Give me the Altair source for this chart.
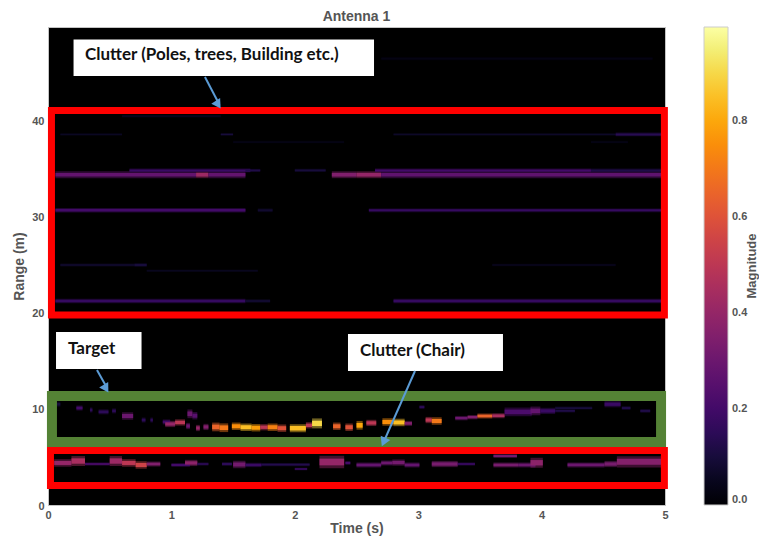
import altair as alt
import pandas as pd

# (start time s, end time s, range m, thickness m, magnitude)
target_track = [
    (.07,.10,10.5,.4,.1),(.23,.28,10.1,.4,.2),(.34,.36,9.9,.4,.15),(.41,.49,9.7,.4,.15),
    (.52,.55,9.8,.4,.15),(.60,.69,9.27,.6,.3),(.76,.79,8.85,.4,.15),(.83,.85,8.85,.4,.15),
    (.93,.99,8.65,.4,.2),(.95,1.03,8.44,.5,.4),(1.03,1.11,8.6,.5,.5),(1.12,1.15,8.23,.5,.3),
    (1.13,1.17,9.5,.7,.3),(1.17,1.21,9.3,.6,.25),(1.20,1.23,8.02,.5,.4),(1.26,1.30,8.13,.5,.35),
    (1.33,1.39,8.13,.7,.65),(1.39,1.46,8.05,.7,.7),(1.49,1.56,8.2,.6,.75),(1.56,1.65,8.1,.6,.85),
    (1.65,1.72,8.05,.6,.78),(1.72,1.78,8.1,.5,.5),(1.78,1.86,8.1,.6,.72),(1.86,1.93,8.0,.6,.6),
    (1.96,2.09,8.0,.65,.85),(2.09,2.14,8.3,.5,.5),(2.14,2.22,8.5,.8,.9),(2.31,2.37,8.2,.6,.65),
    (2.41,2.47,8.1,.6,.6),(2.50,2.55,8.3,.7,.8),(2.58,2.66,8.55,.5,.5),(2.71,2.80,8.65,.6,.75),
    (2.80,2.89,8.6,.6,.85),(2.89,2.95,8.5,.4,.35),(3.06,3.11,8.85,.5,.5),(3.11,3.19,8.75,.6,.7),
    (3.01,3.05,10.2,.3,.15),(3.30,3.40,9.05,.35,.3),(3.40,3.48,9.15,.35,.35),(3.48,3.60,9.27,.4,.65),
    (3.60,3.70,9.3,.4,.45),(3.70,3.92,9.7,.7,.22),(3.91,3.99,9.8,.7,.28),(3.99,4.11,9.8,.5,.18),
    (4.11,4.27,9.8,.25,.12),(4.11,4.41,10.1,.25,.1),(4.51,4.64,10.5,.5,.18),(4.65,4.72,10.1,.3,.12),
    (4.80,4.88,9.8,.3,.12),
]
chair_track = [
    (.05,.19,4.38,.6,.4),(.19,.30,4.58,.8,.45),(.30,.50,4.27,.25,.22),(.50,.60,4.58,.8,.42),
    (.60,.71,4.38,.6,.5),(.71,.80,4.17,.6,.55),(.80,.91,4.27,.4,.35),(1.0,1.15,4.17,.3,.2),
    (1.11,1.21,4.38,.5,.38),(1.21,1.30,4.27,.25,.15),(1.41,1.49,4.27,.3,.15),(1.50,1.60,4.22,.6,.32),
    (1.60,1.73,4.17,.35,.18),(1.73,2.12,4.2,.25,.13),(2.00,2.10,3.75,.2,.18),(2.20,2.40,4.48,1.0,.4),
    (2.41,2.45,4.38,.3,.2),(2.50,2.70,4.17,.4,.28),(2.70,2.79,4.38,.4,.3),(2.79,2.89,4.42,.5,.32),
    (2.89,3.01,4.17,.4,.28),(3.11,3.32,4.27,.5,.33),(3.32,3.46,4.27,.25,.18),(3.61,3.80,5.1,.3,.32),
    (3.61,3.81,4.17,.4,.33),(3.81,3.95,4.17,.4,.3),(3.91,4.01,4.4,.8,.38),(4.21,4.51,4.17,.4,.3),
    (4.51,4.61,4.27,.5,.33),(4.61,4.97,4.5,.9,.36),
]
clutter_bands = [
    (.06,1.2,34.4,.55,.28),(1.2,1.3,34.4,.55,.42),(1.3,1.6,34.4,.55,.28),(2.3,2.5,34.4,.55,.35),
    (2.5,2.7,34.4,.55,.4),(2.7,4.97,34.4,.55,.27),
    (.66,1.64,34.85,.3,.18),(1.6,1.72,34.85,.25,.12),(2.0,2.25,34.85,.25,.1),(2.65,4.4,34.85,.3,.2),(4.4,4.97,34.85,.3,.12),
    (.06,1.6,30.7,.35,.2),(1.7,1.82,30.7,.3,.08),(2.6,4.97,30.7,.3,.17),
    (.06,1.6,21.25,.35,.17),(1.6,1.8,21.25,.3,.08),(2.8,4.97,21.25,.35,.17),
    (.1,.7,25.0,.25,.08),(.7,.8,25.0,.3,.1),(3.6,4.6,25.0,.2,.05),(.8,1.7,24.4,.2,.05),
    (.1,.6,38.6,.2,.06),(1.4,1.5,38.6,.2,.1),(2.8,4.6,38.6,.2,.07),(4.6,4.97,38.6,.3,.14),
    (1.5,2.4,37.8,.2,.04),(4.4,4.7,37.8,.2,.04),(.6,1.4,40.5,.2,.06),(2.7,4.9,46.5,.25,.03),
]
# annotations in data units: x0, x1, y0, y1
red_boxes = [(.028,4.995,19.79,41.09),(.02,4.995,2.03,5.68)]
green_boxes = [(.032,4.968,6.56,11.35)]
white_boxes = [(.207,2.642,44.69,48.49),(.065,.758,14.17,18.02),(2.431,3.687,13.96,17.81)]
labels = ["Clutter (Poles, trees, Building etc.)","Target","Clutter (Chair)"]
label_t = [.30,.162,2.528]
label_r = [46.88,16.25,16.04]
arrows = [(1.272,1.378,44.58,41.98,27),(.397,.47,14.06,12.4,29),(2.974,2.72,13.96,6.56,204)]

GREY = "#555555"
FONT = "Liberation Sans"
rows = target_track + chair_track + clutter_bands
heat = pd.DataFrame(rows, columns=["t0","t1","r","th","mag"])
heat["y0"] = heat.r - heat.th * .35
heat["y1"] = heat.r + heat.th * .35
heat["hy0"] = heat.r - heat.th * .65
heat["hy1"] = heat.r + heat.th * .65

xs = alt.Scale(domain=[0,5], nice=False, zero=False)
ys = alt.Scale(domain=[0,49.79], nice=False, zero=False)
x_ax = alt.Axis(values=[0,1,2,3,4,5], format="d", title="Time (s)", grid=False, ticks=False, domain=False,
                labelFlush=False, labelColor=GREY, labelFont=FONT, labelFontWeight="bold", labelFontSize=11,
                labelPadding=4, titleColor=GREY, titleFont=FONT, titleFontWeight="bold", titleFontSize=14,
                titlePadding=1)
y_ax = alt.Axis(values=[0,10,20,30,40], format="d", title="Range (m)", grid=False, ticks=False, domain=False,
                labelFlush=False, labelOffset=1, labelColor=GREY, labelFont=FONT, labelFontWeight="bold",
                labelFontSize=11, labelPadding=4, titleColor=GREY, titleFont=FONT, titleFontWeight="bold",
                titleFontSize=14, titlePadding=5)
X = lambda f: alt.X(f, scale=xs, axis=x_ax)
Y = lambda f: alt.Y(f, scale=ys, axis=y_ax)
cscale = alt.Scale(scheme="inferno", domain=[0,0.996], nice=False)
clegend = alt.Legend(orient="none", legendX=656, legendY=0, gradientLength=478, gradientThickness=24,
                     direction="vertical", title=None, values=[0,.2,.4,.6,.8], format=".1f",
                     labelColor=GREY, labelFont=FONT, labelFontWeight="bold", labelFontSize=11,
                     labelOffset=4, gradientStrokeColor="#cccccc", gradientStrokeWidth=1)

halo_layer = alt.Chart(heat).mark_rect(strokeWidth=0, fillOpacity=.45).encode(
    x=X("t0:Q"), x2="t1:Q", y=Y("hy0:Q"), y2="hy1:Q",
    color=alt.Color("mag:Q", scale=cscale, legend=clegend),
)
heat_layer = alt.Chart(heat).mark_rect(strokeWidth=0).encode(
    x=X("t0:Q"), x2="t1:Q", y=Y("y0:Q"), y2="y1:Q",
    color=alt.Color("mag:Q", scale=cscale, legend=clegend),
)

def boxes(data, **mark):
    df = pd.DataFrame(data, columns=["a","b","c","d"])
    return alt.Chart(df).mark_rect(**mark).encode(x=X("a:Q"), x2="b:Q", y=Y("c:Q"), y2="d:Q")

green = boxes(green_boxes, fillOpacity=0, stroke="#548235", strokeWidth=10)
red = boxes(red_boxes, fillOpacity=0, stroke="#ff0000", strokeWidth=7)
white = boxes(white_boxes, fill="white")

txt = alt.Chart(pd.DataFrame({"t":label_t,"r":label_r,"s":labels})).mark_text(
    font="Lato", fontWeight="bold", fontSize=17, align="left", baseline="middle", color="#111111"
).encode(x=X("t:Q"), y=Y("r:Q"), text="s:N")

adf = pd.DataFrame(arrows, columns=["t0","t1","r0","r1","ang"])
shaft = alt.Chart(adf).mark_rule(color="#5b9bd5", strokeWidth=2).encode(
    x=X("t0:Q"), x2="t1:Q", y=Y("r0:Q"), y2="r1:Q")
head = alt.Chart(adf).mark_point(shape="triangle-up", filled=True, color="#5b9bd5", opacity=1, size=110).encode(
    x=X("t1:Q"), y=Y("r1:Q"), angle=alt.Angle("ang:Q", scale=None))

cb_title = alt.Chart(pd.DataFrame({"s":["Magnitude"]})).mark_text(
    font=FONT, fontWeight="bold", fontSize=13, angle=270, color=GREY, baseline="middle", align="center"
).encode(x=alt.value(704), y=alt.value(239), text="s:N")

chart = alt.layer(halo_layer, heat_layer, green, red, white, shaft, head, txt, cb_title).properties(
    width=617, height=478,
    autosize=alt.AutoSizeParams(type="none"),
    padding={"left":40,"top":19,"right":94,"bottom":34},
    title=alt.TitleParams("Antenna 1", font=FONT, fontWeight="bold", fontSize=14, color=GREY,
                          anchor="middle", offset=3),
).configure_view(fill="black", stroke="#c4c4c4", strokeWidth=1)

chart.save("out.html", embed_options={"renderer": "svg", "actions": False})
